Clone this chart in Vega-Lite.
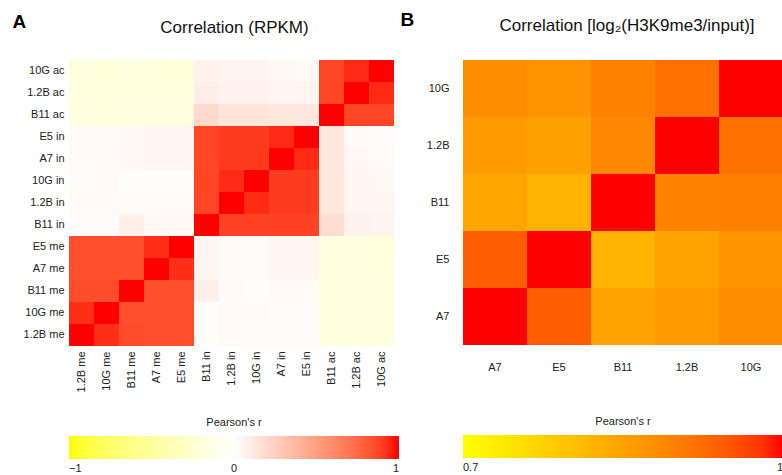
{
  "$schema": "https://vega.github.io/schema/vega-lite/v6.json",
  "padding": {"left": 12, "top": 10, "right": 0, "bottom": 0},
  "background": "white",
  "bounds": "flush",
  "spacing": 69,
  "config": {
    "view": {"stroke": null},
    "font": "Liberation Sans",
    "axis": {"labelFont": "Liberation Sans", "labelFontSize": 11, "labelColor": "#222", "ticks": false, "domain": false, "grid": false},
    "legend": {"labelFont": "Liberation Sans", "titleFont": "Liberation Sans"},
    "title": {"font": "Liberation Sans", "fontSize": 17, "fontWeight": "normal", "color": "#111"}
  },
  "datasets": {
    "rpkm": [
      {"row":"10G ac","col":"1.2B me","r":-0.17},{"row":"10G ac","col":"10G me","r":-0.2},{"row":"10G ac","col":"B11 me","r":-0.18},{"row":"10G ac","col":"A7 me","r":-0.19},{"row":"10G ac","col":"E5 me","r":-0.2},{"row":"10G ac","col":"B11 in","r":0.07},{"row":"10G ac","col":"1.2B in","r":0.06},{"row":"10G ac","col":"10G in","r":0.06},{"row":"10G ac","col":"A7 in","r":0.04},{"row":"10G ac","col":"E5 in","r":0.03},{"row":"10G ac","col":"B11 ac","r":0.88},{"row":"10G ac","col":"1.2B ac","r":0.95},{"row":"10G ac","col":"10G ac","r":1},
      {"row":"1.2B ac","col":"1.2B me","r":-0.18},{"row":"1.2B ac","col":"10G me","r":-0.19},{"row":"1.2B ac","col":"B11 me","r":-0.18},{"row":"1.2B ac","col":"A7 me","r":-0.19},{"row":"1.2B ac","col":"E5 me","r":-0.19},{"row":"1.2B ac","col":"B11 in","r":0.09},{"row":"1.2B ac","col":"1.2B in","r":0.07},{"row":"1.2B ac","col":"10G in","r":0.07},{"row":"1.2B ac","col":"A7 in","r":0.05},{"row":"1.2B ac","col":"E5 in","r":0.05},{"row":"1.2B ac","col":"B11 ac","r":0.88},{"row":"1.2B ac","col":"1.2B ac","r":1},{"row":"1.2B ac","col":"10G ac","r":0.95},
      {"row":"B11 ac","col":"1.2B me","r":-0.16},{"row":"B11 ac","col":"10G me","r":-0.18},{"row":"B11 ac","col":"B11 me","r":-0.17},{"row":"B11 ac","col":"A7 me","r":-0.17},{"row":"B11 ac","col":"E5 me","r":-0.17},{"row":"B11 ac","col":"B11 in","r":0.2},{"row":"B11 ac","col":"1.2B in","r":0.14},{"row":"B11 ac","col":"10G in","r":0.14},{"row":"B11 ac","col":"A7 in","r":0.13},{"row":"B11 ac","col":"E5 in","r":0.13},{"row":"B11 ac","col":"B11 ac","r":1},{"row":"B11 ac","col":"1.2B ac","r":0.88},{"row":"B11 ac","col":"10G ac","r":0.88},
      {"row":"E5 in","col":"1.2B me","r":0.03},{"row":"E5 in","col":"10G me","r":0.03},{"row":"E5 in","col":"B11 me","r":0.04},{"row":"E5 in","col":"A7 me","r":0.05},{"row":"E5 in","col":"E5 me","r":0.05},{"row":"E5 in","col":"B11 in","r":0.88},{"row":"E5 in","col":"1.2B in","r":0.91},{"row":"E5 in","col":"10G in","r":0.91},{"row":"E5 in","col":"A7 in","r":0.95},{"row":"E5 in","col":"E5 in","r":1},{"row":"E5 in","col":"B11 ac","r":0.13},{"row":"E5 in","col":"1.2B ac","r":0.03},{"row":"E5 in","col":"10G ac","r":0.02},
      {"row":"A7 in","col":"1.2B me","r":0.03},{"row":"A7 in","col":"10G me","r":0.03},{"row":"A7 in","col":"B11 me","r":0.04},{"row":"A7 in","col":"A7 me","r":0.05},{"row":"A7 in","col":"E5 me","r":0.05},{"row":"A7 in","col":"B11 in","r":0.88},{"row":"A7 in","col":"1.2B in","r":0.91},{"row":"A7 in","col":"10G in","r":0.91},{"row":"A7 in","col":"A7 in","r":1},{"row":"A7 in","col":"E5 in","r":0.95},{"row":"A7 in","col":"B11 ac","r":0.13},{"row":"A7 in","col":"1.2B ac","r":0.04},{"row":"A7 in","col":"10G ac","r":0.03},
      {"row":"10G in","col":"1.2B me","r":0.02},{"row":"10G in","col":"10G me","r":0.03},{"row":"10G in","col":"B11 me","r":0.01},{"row":"10G in","col":"A7 me","r":0.01},{"row":"10G in","col":"E5 me","r":0.01},{"row":"10G in","col":"B11 in","r":0.88},{"row":"10G in","col":"1.2B in","r":0.95},{"row":"10G in","col":"10G in","r":1},{"row":"10G in","col":"A7 in","r":0.91},{"row":"10G in","col":"E5 in","r":0.91},{"row":"10G in","col":"B11 ac","r":0.13},{"row":"10G in","col":"1.2B ac","r":0.05},{"row":"10G in","col":"10G ac","r":0.04},
      {"row":"1.2B in","col":"1.2B me","r":0.03},{"row":"1.2B in","col":"10G me","r":0.03},{"row":"1.2B in","col":"B11 me","r":0.02},{"row":"1.2B in","col":"A7 me","r":0.02},{"row":"1.2B in","col":"E5 me","r":0.02},{"row":"1.2B in","col":"B11 in","r":0.88},{"row":"1.2B in","col":"1.2B in","r":1},{"row":"1.2B in","col":"10G in","r":0.95},{"row":"1.2B in","col":"A7 in","r":0.91},{"row":"1.2B in","col":"E5 in","r":0.91},{"row":"1.2B in","col":"B11 ac","r":0.13},{"row":"1.2B in","col":"1.2B ac","r":0.05},{"row":"1.2B in","col":"10G ac","r":0.05},
      {"row":"B11 in","col":"1.2B me","r":0.02},{"row":"B11 in","col":"10G me","r":0.02},{"row":"B11 in","col":"B11 me","r":0.08},{"row":"B11 in","col":"A7 me","r":0.04},{"row":"B11 in","col":"E5 me","r":0.04},{"row":"B11 in","col":"B11 in","r":1},{"row":"B11 in","col":"1.2B in","r":0.89},{"row":"B11 in","col":"10G in","r":0.89},{"row":"B11 in","col":"A7 in","r":0.89},{"row":"B11 in","col":"E5 in","r":0.89},{"row":"B11 in","col":"B11 ac","r":0.18},{"row":"B11 in","col":"1.2B ac","r":0.07},{"row":"B11 in","col":"10G ac","r":0.06},
      {"row":"E5 me","col":"1.2B me","r":0.85},{"row":"E5 me","col":"10G me","r":0.85},{"row":"E5 me","col":"B11 me","r":0.85},{"row":"E5 me","col":"A7 me","r":0.94},{"row":"E5 me","col":"E5 me","r":1},{"row":"E5 me","col":"B11 in","r":0.05},{"row":"E5 me","col":"1.2B in","r":0.03},{"row":"E5 me","col":"10G in","r":0.02},{"row":"E5 me","col":"A7 in","r":0.05},{"row":"E5 me","col":"E5 in","r":0.05},{"row":"E5 me","col":"B11 ac","r":-0.15},{"row":"E5 me","col":"1.2B ac","r":-0.17},{"row":"E5 me","col":"10G ac","r":-0.19},
      {"row":"A7 me","col":"1.2B me","r":0.85},{"row":"A7 me","col":"10G me","r":0.85},{"row":"A7 me","col":"B11 me","r":0.85},{"row":"A7 me","col":"A7 me","r":1},{"row":"A7 me","col":"E5 me","r":0.94},{"row":"A7 me","col":"B11 in","r":0.05},{"row":"A7 me","col":"1.2B in","r":0.03},{"row":"A7 me","col":"10G in","r":0.02},{"row":"A7 me","col":"A7 in","r":0.05},{"row":"A7 me","col":"E5 in","r":0.05},{"row":"A7 me","col":"B11 ac","r":-0.15},{"row":"A7 me","col":"1.2B ac","r":-0.17},{"row":"A7 me","col":"10G ac","r":-0.18},
      {"row":"B11 me","col":"1.2B me","r":0.86},{"row":"B11 me","col":"10G me","r":0.86},{"row":"B11 me","col":"B11 me","r":1},{"row":"B11 me","col":"A7 me","r":0.85},{"row":"B11 me","col":"E5 me","r":0.85},{"row":"B11 me","col":"B11 in","r":0.08},{"row":"B11 me","col":"1.2B in","r":0.03},{"row":"B11 me","col":"10G in","r":0.01},{"row":"B11 me","col":"A7 in","r":0.03},{"row":"B11 me","col":"E5 in","r":0.03},{"row":"B11 me","col":"B11 ac","r":-0.15},{"row":"B11 me","col":"1.2B ac","r":-0.16},{"row":"B11 me","col":"10G ac","r":-0.18},
      {"row":"10G me","col":"1.2B me","r":0.94},{"row":"10G me","col":"10G me","r":1},{"row":"10G me","col":"B11 me","r":0.85},{"row":"10G me","col":"A7 me","r":0.85},{"row":"10G me","col":"E5 me","r":0.85},{"row":"10G me","col":"B11 in","r":0.01},{"row":"10G me","col":"1.2B in","r":0.03},{"row":"10G me","col":"10G in","r":0.03},{"row":"10G me","col":"A7 in","r":0.02},{"row":"10G me","col":"E5 in","r":0.02},{"row":"10G me","col":"B11 ac","r":-0.15},{"row":"10G me","col":"1.2B ac","r":-0.16},{"row":"10G me","col":"10G ac","r":-0.18},
      {"row":"1.2B me","col":"1.2B me","r":1},{"row":"1.2B me","col":"10G me","r":0.94},{"row":"1.2B me","col":"B11 me","r":0.86},{"row":"1.2B me","col":"A7 me","r":0.85},{"row":"1.2B me","col":"E5 me","r":0.85},{"row":"1.2B me","col":"B11 in","r":0.01},{"row":"1.2B me","col":"1.2B in","r":0.03},{"row":"1.2B me","col":"10G in","r":0.02},{"row":"1.2B me","col":"A7 in","r":0.02},{"row":"1.2B me","col":"E5 in","r":0.02},{"row":"1.2B me","col":"B11 ac","r":-0.15},{"row":"1.2B me","col":"1.2B ac","r":-0.16},{"row":"1.2B me","col":"10G ac","r":-0.17}
    ],
    "h3k9": [
      {"row":"10G","col":"A7","r":0.88},{"row":"10G","col":"E5","r":0.87},{"row":"10G","col":"B11","r":0.897},{"row":"10G","col":"1.2B","r":0.918},{"row":"10G","col":"10G","r":1},
      {"row":"1.2B","col":"A7","r":0.86},{"row":"1.2B","col":"E5","r":0.85},{"row":"1.2B","col":"B11","r":0.89},{"row":"1.2B","col":"1.2B","r":1},{"row":"1.2B","col":"10G","r":0.918},
      {"row":"B11","col":"A7","r":0.845},{"row":"B11","col":"E5","r":0.825},{"row":"B11","col":"B11","r":1},{"row":"B11","col":"1.2B","r":0.895},{"row":"B11","col":"10G","r":0.9},
      {"row":"E5","col":"A7","r":0.94},{"row":"E5","col":"E5","r":1},{"row":"E5","col":"B11","r":0.825},{"row":"E5","col":"1.2B","r":0.848},{"row":"E5","col":"10G","r":0.87},
      {"row":"A7","col":"A7","r":1},{"row":"A7","col":"E5","r":0.94},{"row":"A7","col":"B11","r":0.848},{"row":"A7","col":"1.2B","r":0.86},{"row":"A7","col":"10G","r":0.88}
    ]
  },
  "resolve": {"scale": {"color": "independent", "x": "independent", "y": "independent"}, "legend": {"color": "independent"}},
  "hconcat": [
    {
      "width": 325,
      "height": 286,
      "data": {"name": "rpkm"},
      "title": {"text": "Correlation (RPKM)", "dx": 3, "offset": -25},
      "mark": {"type": "rect", "stroke": null},
      "encoding": {
        "x": {"field": "col", "type": "nominal", "sort": ["1.2B me","10G me","B11 me","A7 me","E5 me","B11 in","1.2B in","10G in","A7 in","E5 in","B11 ac","1.2B ac","10G ac"],
              "scale": {"paddingInner": 0, "paddingOuter": 0},
              "axis": {"title": null, "labelAngle": -90, "labelPadding": 5}},
        "y": {"field": "row", "type": "nominal", "sort": ["10G ac","1.2B ac","B11 ac","E5 in","A7 in","10G in","1.2B in","B11 in","E5 me","A7 me","B11 me","10G me","1.2B me"],
              "scale": {"paddingInner": 0, "paddingOuter": 0},
              "axis": {"title": "A", "titleAngle": 0, "titleX": -57, "titleY": -33, "titleAlign": "left", "titleBaseline": "alphabetic", "titleFontSize": 19, "titleFontWeight": "bold", "titleColor": "#000", "labelPadding": 5}},
        "color": {"field": "r", "type": "quantitative",
                  "scale": {"domain": [-1, 0, 1], "range": ["#ffff00", "#ffffff", "#ff0000"], "interpolate": "lab"},
                  "legend": {"type": "gradient", "title": "Pearson's r", "orient": "none", "legendX": 0, "legendY": 357, "direction": "horizontal",
                             "gradientLength": 330, "gradientThickness": 23, "titleAnchor": "middle", "titleFontSize": 11, "titleFontWeight": "normal", "titleColor": "#222", "titlePadding": 8,
                             "values": [-1, 0, 1], "format": "d", "labelFontSize": 11, "labelColor": "#222", "labelOffset": 4}}
      }
    },
    {
      "width": 320,
      "height": 285,
      "data": {"name": "h3k9"},
      "title": {"text": "Correlation [log₂(H3K9me3/input)]", "dx": 4, "offset": -25},
      "mark": {"type": "rect", "stroke": null},
      "encoding": {
        "x": {"field": "col", "type": "nominal", "sort": ["A7","E5","B11","1.2B","10G"],
              "scale": {"paddingInner": 0, "paddingOuter": 0},
              "axis": {"title": null, "labelAngle": 0, "labelPadding": 16}},
        "y": {"field": "row", "type": "nominal", "sort": ["10G","1.2B","B11","E5","A7"],
              "scale": {"paddingInner": 0, "paddingOuter": 0},
              "axis": {"title": "B", "titleAngle": 0, "titleX": -63, "titleY": -35, "titleAlign": "left", "titleBaseline": "alphabetic", "titleFontSize": 19, "titleFontWeight": "bold", "titleColor": "#000", "labelPadding": 14}},
        "color": {"field": "r", "type": "quantitative",
                  "scale": {"domain": [0.7, 1], "range": ["#ffff00", "#ff0000"], "interpolate": "lab"},
                  "legend": {"type": "gradient", "title": "Pearson's r", "orient": "none", "legendX": 0, "legendY": 356, "direction": "horizontal",
                             "gradientLength": 320, "gradientThickness": 23, "titleAnchor": "middle", "titleFontSize": 11, "titleFontWeight": "normal", "titleColor": "#222", "titlePadding": 8,
                             "values": [0.7, 1], "format": ".1~f", "labelFontSize": 11, "labelColor": "#222", "labelOffset": 4}}
      }
    }
  ]
}
